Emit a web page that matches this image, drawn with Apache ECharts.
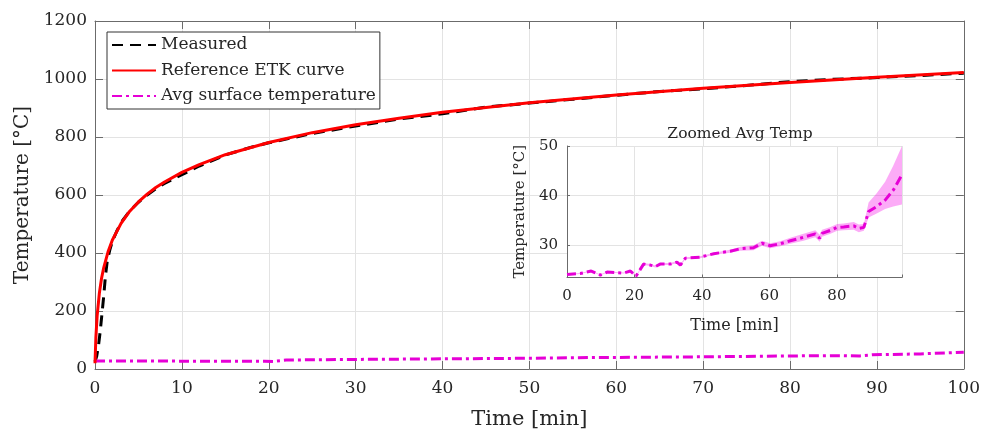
<!DOCTYPE html>
<html>
<head>
<meta charset="utf-8">
<script src="https://cdn.jsdelivr.net/npm/echarts@6/dist/echarts.min.js"></script>
<style>html,body{margin:0;padding:0;background:#fff}#c{width:983px;height:435px}</style>
</head>
<body>
<div id="c"></div>
<script>
// ---- Data ----
var etkTime = [0,0.1,0.25,0.5,0.75,1,1.5,2,3,4,5,6,7,8,10,12,15,20,25,30,35,40,45,50,60,70,80,90,100];
var etkTemp = [20,108,185,261,312,349,404,445,502,544,576,603,626,645,678,705,739,781,815,842,865,885,902,918,945,968,988,1006,1022];

var measTime = [0,0.2,0.4,0.6,0.8,1.0,1.2,1.4,1.7,2,2.5,3,4,5,6,7,8,10,12,15,18,20,25,30,35,40,45,50,55,60,65,70,75,80,85,90,95,100];
var measTemp = [25,45,80,130,190,250,320,370,410,440,475,505,545,575,600,622,640,670,700,738,765,780,812,838,862,880,903,917,930,944,957,966,978,991,999,1005,1012,1020];

var avgTime = [0,5,10,15,19.5,20.5,22,30,40,50,55,60,70,80,85,88,89.5,95,100];
var avgTemp = [28,28,27,27,27,26,31,33,35,37,39,40,42,45,46,45,49,52,58];

var zoomTime  = [0,3.9,7.2,9.9,11.9,16.8,18.8,20.5,22.7,24.7,26.2,27.6,30.6,32.6,33.6,35.1,39.5,43.5,48.4,51.4,55.3,57.8,60.2,63.2,66.2,70.1,73.6,74.9,75.6,78.1,80.1,82.0,85.0,86.5,88.0,89.4,91.8,94.3,96.7,99.3];
var zoomMean  = [24.1,24.3,24.8,24.0,24.6,24.4,24.8,23.8,26.2,26.0,25.7,26.2,26.2,26.6,26.0,27.4,27.6,28.3,28.8,29.3,29.5,30.4,29.9,30.3,30.9,31.6,32.3,31.4,32.4,33.0,33.6,33.7,33.9,33.4,33.6,36.8,37.8,39.1,41.1,44.2];
var zoomLower = [24.0,24.2,24.7,23.9,24.5,24.3,24.7,23.7,26.0,25.8,25.5,26.0,26.0,26.4,25.8,27.2,27.4,28.1,28.5,28.9,29.0,29.9,29.4,29.8,30.3,30.9,31.6,30.7,31.7,32.3,32.9,33.0,33.1,32.6,32.9,35.6,36.4,37.3,37.8,38.2];
var zoomUpper = [24.2,24.4,24.9,24.1,24.7,24.5,24.9,23.9,26.4,26.2,25.9,26.4,26.4,26.8,26.2,27.6,27.8,28.5,29.1,29.7,30.0,30.9,30.4,30.8,31.5,32.3,33.0,32.1,33.1,33.7,34.3,34.4,34.7,34.2,34.3,38.6,40.5,42.8,46.0,50.0];

var mainXTicks = {min: 0, max: 100, interval: 10};
var mainYTicks = {min: 0, max: 1200, interval: 200};
var zoomXTicks = {min: 0, max: 99.3, interval: 20};
var zoomYRange = {min: 23.5, max: 50};
var zoomYTickValues = [30, 40, 50];

function pairs(xs, ys) { return xs.map(function (x, i) { return [x, ys[i]]; }); }
var bandRows = zoomTime.map(function (t, i) { return [t, zoomLower[i], zoomUpper[i]]; });

var FONT = 'DejaVu Serif';
var TXT = '#262626';
var AX = '#6b6b6b';
var GRIDC = '#e3e3e3';
var MAG = '#e600d6';

var chart = echarts.init(document.getElementById('c'), null, {renderer: 'canvas'});
chart.setOption({
  animation: false,
  backgroundColor: '#fff',
  textStyle: {fontFamily: FONT, color: TXT},
  title: {
    text: 'Zoomed Avg Temp', left: 735, top: 121, textAlign: 'center',
    textStyle: {fontFamily: FONT, fontSize: 15.5, fontWeight: 'normal', color: TXT}
  },
  legend: {
    orient: 'vertical', left: 107, top: 32,
    padding: [3, 4, 3, 4], itemGap: 5.5, itemWidth: 44, itemHeight: 14,
    backgroundColor: '#fff', borderColor: '#333', borderWidth: 1,
    itemStyle: {opacity: 0},
    textStyle: {fontFamily: FONT, fontSize: 17, color: TXT, lineHeight: 20},
    data: ['Measured', 'Reference ETK curve', 'Avg surface temperature']
  },
  grid: [
    {left: 95, top: 21, width: 869, height: 348, containLabel: false},
    {left: 567, top: 146, width: 335, height: 131.5, show: true, backgroundColor: '#fff', borderWidth: 0, z: 1}
  ],
  xAxis: [
    {type: 'value', gridIndex: 0, position: 'bottom', min: mainXTicks.min, max: mainXTicks.max, interval: mainXTicks.interval,
     name: 'Time [min]', nameLocation: 'middle', nameGap: 40,
     nameTextStyle: {fontFamily: FONT, fontSize: 21, color: TXT},
     axisLine: {show: true, onZero: false, lineStyle: {color: AX, width: 1}},
     axisTick: {show: true, inside: true, length: 8, lineStyle: {color: AX}},
     axisLabel: {margin: 11, fontFamily: FONT, fontSize: 17, color: TXT, formatter: function (v) { return String(v); }},
     splitLine: {show: true, lineStyle: {color: GRIDC, width: 1}}},
    {type: 'value', gridIndex: 0, position: 'top', min: mainXTicks.min, max: mainXTicks.max, interval: mainXTicks.interval,
     axisLine: {show: true, onZero: false, lineStyle: {color: AX, width: 1}},
     axisTick: {show: true, inside: true, length: 8, lineStyle: {color: AX}},
     axisLabel: {show: false}, splitLine: {show: false}},
    {type: 'value', gridIndex: 1, position: 'bottom', min: zoomXTicks.min, max: zoomXTicks.max, interval: zoomXTicks.interval, z: 3,
     name: 'Time [min]', nameLocation: 'middle', nameGap: 40,
     nameTextStyle: {fontFamily: FONT, fontSize: 16, color: TXT},
     axisLine: {show: true, onZero: false, lineStyle: {color: AX, width: 1}},
     axisTick: {show: true, inside: true, length: 3, lineStyle: {color: AX}},
     axisLabel: {margin: 11, fontFamily: FONT, fontSize: 15, color: TXT,
       formatter: function (v) { return (Math.abs(v % 20) < 1e-6) ? String(v) : ''; }},
     splitLine: {show: true, lineStyle: {color: GRIDC, width: 1}}}
  ],
  yAxis: [
    {type: 'value', gridIndex: 0, position: 'left', min: mainYTicks.min, max: mainYTicks.max, interval: mainYTicks.interval,
     name: 'Temperature [°C]', nameLocation: 'middle', nameGap: 50,
     nameTextStyle: {fontFamily: FONT, fontSize: 20, color: TXT},
     axisLine: {show: true, onZero: false, lineStyle: {color: AX, width: 1}},
     axisTick: {show: true, inside: true, length: 8, lineStyle: {color: AX}},
     axisLabel: {margin: 8, fontFamily: FONT, fontSize: 17, color: TXT, formatter: function (v) { return String(v); }},
     splitLine: {show: true, lineStyle: {color: GRIDC, width: 1}}},
    {type: 'value', gridIndex: 0, position: 'right', min: mainYTicks.min, max: mainYTicks.max, interval: mainYTicks.interval,
     axisLine: {show: true, onZero: false, lineStyle: {color: AX, width: 1}},
     axisTick: {show: true, inside: true, length: 8, lineStyle: {color: AX}},
     axisLabel: {show: false}, splitLine: {show: false}},
    {type: 'value', gridIndex: 1, position: 'left', min: zoomYRange.min, max: zoomYRange.max, z: 3,
     name: 'Temperature [°C]', nameLocation: 'middle', nameGap: 39,
     nameTextStyle: {fontFamily: FONT, fontSize: 15, color: TXT},
     axisLine: {show: true, onZero: false, lineStyle: {color: AX, width: 1}},
     axisTick: {show: true, inside: true, length: 3, lineStyle: {color: AX}, customValues: zoomYTickValues},
     axisLabel: {margin: 9, fontFamily: FONT, fontSize: 15, color: TXT, customValues: zoomYTickValues,
       formatter: function (v) { return String(v); }},
     splitLine: {show: true, lineStyle: {color: GRIDC, width: 1}}}
  ],
  series: [
    {name: 'Measured', type: 'line', xAxisIndex: 0, yAxisIndex: 0, symbol: 'none', z: 2,
     data: pairs(measTime, measTemp),
     lineStyle: {color: '#000', width: 3, type: [11, 7]}, itemStyle: {color: '#000'}},
    {name: 'Reference ETK curve', type: 'line', xAxisIndex: 0, yAxisIndex: 0, symbol: 'none', z: 3,
     data: pairs(etkTime, etkTemp),
     lineStyle: {color: '#ff0000', width: 3}, itemStyle: {color: '#ff0000'}},
    {name: 'Avg surface temperature', type: 'line', xAxisIndex: 0, yAxisIndex: 0, symbol: 'none', z: 2,
     data: pairs(avgTime, avgTemp),
     lineStyle: {color: MAG, width: 3, type: [10, 4, 3, 4]}, itemStyle: {color: MAG}},
    {name: 'band', type: 'custom', xAxisIndex: 2, yAxisIndex: 2, z: 4, silent: true,
     data: bandRows,
     encode: {x: 0, y: [1, 2]},
     renderItem: function (params, api) {
       if (params.dataIndex !== 0) { return null; }
       var pts = [];
       for (var i = 0; i < bandRows.length; i++) { pts.push(api.coord([bandRows[i][0], bandRows[i][2]])); }
       for (var j = bandRows.length - 1; j >= 0; j--) { pts.push(api.coord([bandRows[j][0], bandRows[j][1]])); }
       return {type: 'polygon', shape: {points: pts}, style: {fill: 'rgba(246,0,230,0.33)', stroke: null}};
     }},
    {name: 'zoomMean', type: 'line', xAxisIndex: 2, yAxisIndex: 2, symbol: 'none', z: 5,
     data: pairs(zoomTime, zoomMean),
     lineStyle: {color: MAG, width: 3, type: [9, 4, 3, 4]}}
  ]
});
</script>
</body>
</html>
